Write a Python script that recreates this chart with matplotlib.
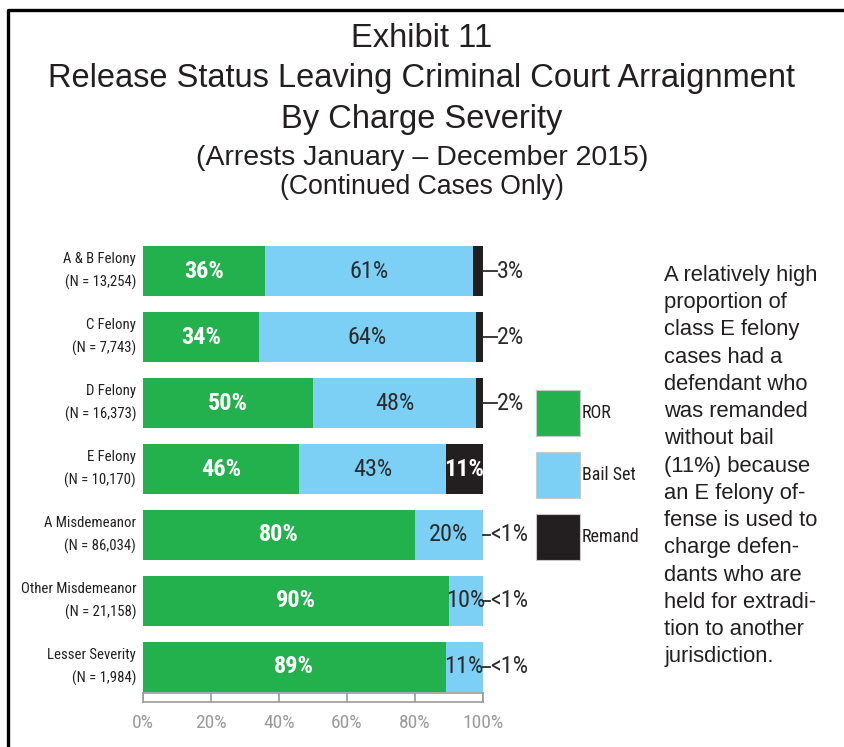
import matplotlib
matplotlib.use("Agg")
import matplotlib.pyplot as plt
from matplotlib import font_manager as fm
from matplotlib.patches import Rectangle
from matplotlib.lines import Line2D

# ---------------- data ----------------
categories = ["A & B Felony", "C Felony", "D Felony", "E Felony",
              "A Misdemeanor", "Other Misdemeanor", "Lesser Severity"]
n_labels = ["(N = 13,254)", "(N = 7,743)", "(N = 16,373)", "(N = 10,170)",
            "(N = 86,034)", "(N = 21,158)", "(N = 1,984)"]
ror = [36, 34, 50, 46, 80, 90, 89]
bail_set = [61, 64, 48, 43, 20, 10, 11]
remand = [3, 2, 2, 11, 0, 0, 0]
remand_labels = ["3%", "2%", "2%", "11%", "<1%", "<1%", "<1%"]
series_names = ["ROR", "Bail Set", "Remand"]
x_ticks = [0, 20, 40, 60, 80, 100]
x_tick_labels = ["0%", "20%", "40%", "60%", "80%", "100%"]

title_lines = ["Exhibit 11",
               "Release Status Leaving Criminal Court Arraignment",
               "By Charge Severity"]
subtitle_lines = ["(Arrests January \u2013 December 2015)",
                  "(Continued Cases Only)"]
note_text = ("A relatively high\nproportion of\nclass E felony\ncases had a\n"
             "defendant who\nwas remanded\nwithout bail\n(11%) because\n"
             "an E felony of-\nfense is used to\ncharge defen-\ndants who are\n"
             "held for extradi-\ntion to another\njurisdiction.")

# ---------------- style ----------------
GREEN = "#22b14c"
BLUE = "#7dd0f5"
BLACK = "#231f20"
DARK = "#2b2b2b"
GRAY = "#9a9a9a"
colors = [GREEN, BLUE, BLACK]

W, H = 844, 747


def narrow_props(size, bold=False):
    prefs = ["Liberation Sans Narrow", "Arial Narrow", "Roboto Condensed",
             "Open Sans Condensed", "DejaVu Sans Condensed", "Noto Sans Condensed"]
    ents = fm.fontManager.ttflist

    def wt(e):
        w = e.weight
        if isinstance(w, str):
            w = fm.weight_dict.get(w, 400)
        return w

    def ok(e):
        return ((wt(e) >= 600) == bold) and e.style == "normal"

    for p in prefs:
        for e in ents:
            if e.name == p and ok(e):
                return fm.FontProperties(fname=e.fname, size=size)
    for e in ents:
        if e.stretch in ("condensed", "semi-condensed", "extra-condensed",
                         "ultra-condensed") and ok(e):
            return fm.FontProperties(fname=e.fname, size=size)
    return fm.FontProperties(family="Liberation Sans",
                             weight="bold" if bold else "normal", size=size)


def px(x, y):
    return x / W, 1 - y / H


fig = plt.figure(figsize=(W / 100, H / 100), dpi=100)
fig.patch.set_facecolor("white")

# frame (top and left)
fig.add_artist(Line2D([8 / W, 8 / W, 1.0], [0.0, 1 - 9.5 / H, 1 - 9.5 / H],
                      transform=fig.transFigure, color="black", lw=2.4))

# titles
title_base = [47, 87, 128]
for t, yb in zip(title_lines, title_base):
    fig.text(0.5, 1 - yb / H, t, ha="center", va="baseline",
             family="Liberation Sans", fontsize=23.5, color=BLACK)
sub_base = [165, 194]
sub_sizes = [20.5, 19.2]
for t, yb, fs in zip(subtitle_lines, sub_base, sub_sizes):
    fig.text(0.5, 1 - yb / H, t, ha="center", va="baseline",
             family="Liberation Sans", fontsize=fs, color=BLACK)

# ---------------- main bars ----------------
h = 0.7576
left, right, top, bottom = 143, 483, 246, 692
ax = fig.add_axes([left / W, 1 - bottom / H, (right - left) / W, (bottom - top) / H])
ax.set_xlim(0, 100)
ax.set_ylim(len(categories) - 1 + h / 2, -h / 2)
for s in ax.spines.values():
    s.set_visible(False)
ax.set_xticks([])

ypos = list(range(len(categories)))
lefts = [0] * len(categories)
series = [ror, bail_set, remand]
for k, vals in enumerate(series):
    ax.barh(ypos, vals, left=lefts, height=h, color=colors[k],
            edgecolor="none", label=series_names[k])
    lefts = [a + b for a, b in zip(lefts, vals)]

fp_white = narrow_props(17.5, bold=True)
fp_dark = narrow_props(17.5, bold=False)

for i in ypos:
    ax.text(ror[i] / 2, i, f"{ror[i]}%", ha="center", va="center",
            color="white", fontproperties=fp_white)
    ax.text(ror[i] + bail_set[i] / 2, i, f"{bail_set[i]}%", ha="center",
            va="center", color=DARK, fontproperties=fp_dark)
    if remand[i] >= 5:
        ax.text(ror[i] + bail_set[i] + remand[i] / 2, i, remand_labels[i],
                ha="center", va="center", color="white", fontproperties=fp_white)
    else:
        L = 4.0 if remand[i] > 0 else 2.0
        ax.plot([100, 100 + L], [i, i], color=DARK, lw=1.3, clip_on=False)
        ax.text(100 + L + 0.2, i, remand_labels[i], ha="left", va="center",
                color=DARK, fontproperties=fp_dark)

# category labels
fp_cat = narrow_props(10.6)
ax.set_yticks(ypos)
ax.set_yticklabels([f"{c}\n{n}" for c, n in zip(categories, n_labels)],
                   fontproperties=fp_cat, color=BLACK, ha="right",
                   multialignment="right", linespacing=1.75)
for lab in ax.get_yticklabels():
    lab.set_va("center")
ax.tick_params(axis="y", length=0, pad=5)

# ---------------- scale strip ----------------
sax = fig.add_axes([left / W, 1 - 702 / H, (right - left) / W, 9 / H])
sax.set_xlim(0, 100)
sax.set_ylim(0, 1)
for s in sax.spines.values():
    s.set_color(GRAY)
    s.set_linewidth(1.2)
for t in x_ticks:
    sax.axvline(t, color=GRAY, lw=1.2)
sax.set_yticks([])
sax.set_xticks(x_ticks)
sax.set_xticklabels(x_tick_labels, fontproperties=narrow_props(14), color=GRAY)
sax.tick_params(axis="x", length=0, pad=9)

# ---------------- legend ----------------
handles = [Rectangle((0, 0), 1, 1, facecolor=c, edgecolor="#c8c8c8", lw=0.8)
           for c in colors]
fs_leg = 13
fs_px = fs_leg * 100 / 72
hh = (46 / fs_px - 0.245) / 0.65
fig.legend(handles, series_names, loc="upper left",
           bbox_to_anchor=px(536, 390), frameon=False, borderpad=0,
           borderaxespad=0, handlelength=44 / fs_px,
           handleheight=hh, handletextpad=0.1,
           labelspacing=16 / fs_px, prop=narrow_props(fs_leg),
           labelcolor=BLACK)

# ---------------- note ----------------
fig.text(664 / W, 1 - 265 / H, note_text, ha="left", va="top",
         family="Liberation Sans", fontsize=15.8, color=BLACK, linespacing=1.39)

fig.savefig("out.png", dpi=100, facecolor="white")
